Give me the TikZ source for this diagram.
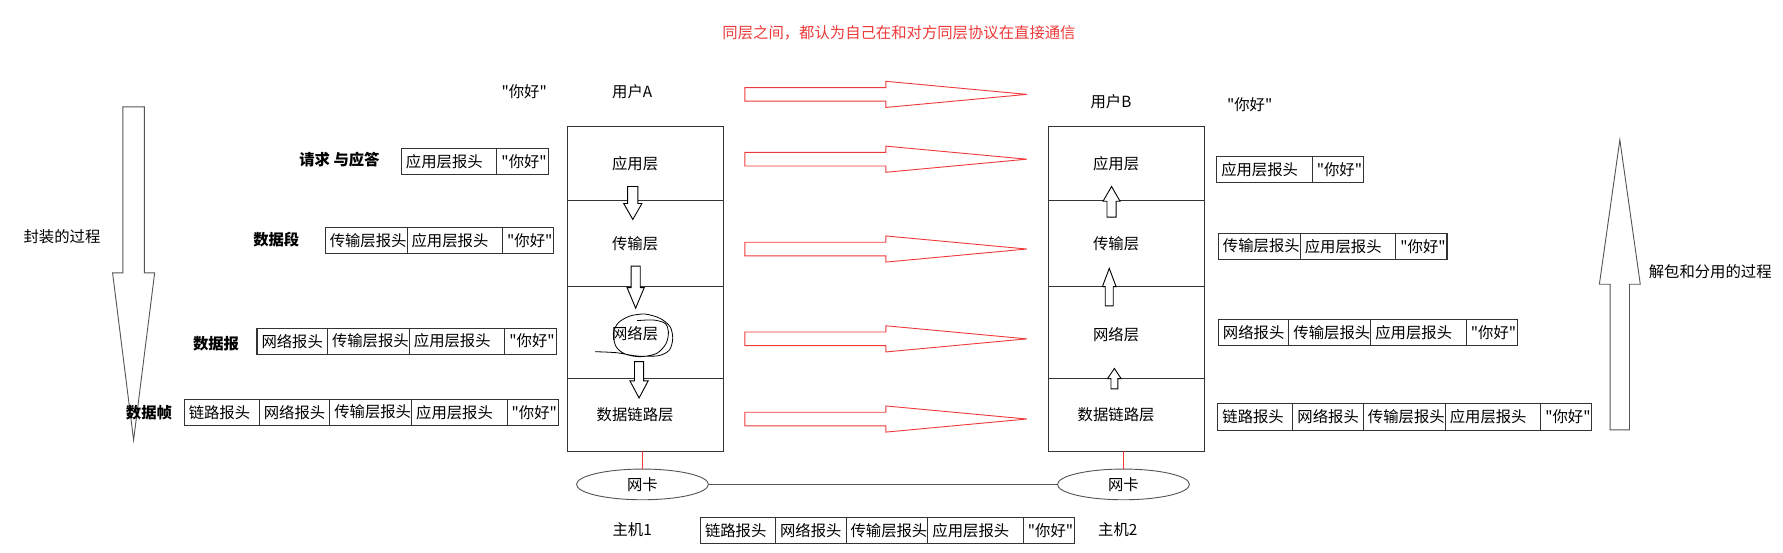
\documentclass[tikz,border=0pt]{standalone}
\usepackage{fontspec}
\newfontfamily\cnfont{Noto Sans CJK SC}
\usetikzlibrary{positioning,shapes.geometric}
\definecolor{PeerRed}{HTML}{EE3A3A}
\definecolor{BoxGray}{HTML}{333333}
\definecolor{ArrGray}{HTML}{555555}

\begin{document}
\begin{tikzpicture}[x=1pt, y=-1pt, node distance=0pt,
    every node/.style={font=\cnfont\fontsize{13.5}{16}\selectfont, inner sep=0pt, outer sep=0pt},
    osibox/.style={draw=BoxGray, line width=0.9pt, minimum width=137pt},
    hdr/.style={draw=BoxGray, line width=0.9pt, minimum height=23pt, inner xsep=4pt, align=left, anchor=west},
    lnkhdr/.style={hdr, text width=58pt},
    nethdr/.style={hdr, text width=54pt},
    trhdr/.style={hdr, text width=64pt},
    apphdr/.style={hdr, text width=76pt},
    msgbox/.style={hdr, text width=37pt},
    peer/.style={draw=PeerRed, line width=0.8pt},
    fat/.style={draw=ArrGray, line width=0.8pt, fill=white},
    nic/.style={draw=ArrGray, ellipse, line width=0.8pt, minimum width=116pt, minimum height=27pt},
    pdu/.style={font=\cnfont\fontsize{13.5}{16}\selectfont\bfseries}]
    \useasboundingbox (0,0) rectangle (1568,486);

    \node[text=PeerRed] (title) at (790.6,29.3) {同层之间，都认为自己在和对方同层协议在直接通信};

    % the two protocol stacks
    \node[osibox, minimum height=64.5pt] (appA) at (567.5,143.75) {};
    \node[osibox, minimum height=76pt, below=of appA] (trA) {};
    \node[osibox, minimum height=81pt, below=of trA] (netA) {};
    \node[osibox, minimum height=64pt, below=of netA] (lnkA) {};
    \node[osibox, minimum height=64.5pt] (appB) at (990.5,143.75) {};
    \node[osibox, minimum height=76pt, below=of appB] (trB) {};
    \node[osibox, minimum height=81pt, below=of trB] (netB) {};
    \node[osibox, minimum height=64pt, below=of netB] (lnkB) {};
    \node (appAl) at ([xshift=-9pt]appA.center) {应用层};
    \node (trAl) at ([xshift=-9pt]trA.center) {传输层};
    \node (netAl) at ([xshift=-9pt,yshift=-1pt]netA.center) {网络层};
    \node (lnkAl) at ([xshift=-9pt]lnkA.center) {数据链路层};
    \node (appBl) at ([xshift=-9pt]appB.center) {应用层};
    \node (trBl) at ([xshift=-9pt]trB.center) {传输层};
    \node (netBl) at ([xshift=-9pt,yshift=-2pt]netB.center) {网络层};
    \node (lnkBl) at ([xshift=-9pt]lnkB.center) {数据链路层};

    \node (userA) at (556,81) {用户A};
    \node (userB) at (977,89.5) {用户B};
    \node (helloA) at (461,81) {"你好"};
    \node (helloB) at (1099,92) {"你好"};

    % peer arrows
    \foreach \y in {83,140,219,298,368.5}
      \draw[peer] (655,\y-6) -- (779,\y-6) -- (779,\y-11.5) -- (903,\y) -- (779,\y+11.5) -- (779,\y+6) -- (655,\y+6) -- cycle;

    % big process arrows and small layer arrows
    \foreach \cx/\ys/\yb/\yt/\sw/\hw in {117.5/94/240/387/9.5/18.5, 1424.5/378/250/123/8.5/18}
      \draw[fat] (\cx-\sw,\ys) -- (\cx+\sw,\ys) -- (\cx+\sw,\yb) -- (\cx+\hw,\yb) -- (\cx,\yt) -- (\cx-\hw,\yb) -- (\cx-\sw,\yb) -- cycle;
    \foreach \cx/\ys/\yb/\yt/\sw/\hw in {556.5/164/179/193/4.5/8, 559/234/253/271/4/7.5, 562/318/335/350/4/8,
        977.5/191/177/164/4/7.5, 975.5/269/252/236/3.5/6, 980/342/333/324/3/6}
      \draw[fat, draw=black] (\cx-\sw,\ys) -- (\cx+\sw,\ys) -- (\cx+\sw,\yb) -- (\cx+\hw,\yb) -- (\cx,\yt) -- (\cx-\hw,\yb) -- (\cx-\sw,\yb) -- cycle;
    \node (encap) at (54.5,208) {封装的过程};
    \node (decap) at (1504,239) {解包和分用的过程};

    % scribble round the network layer
    \draw[black, line width=0.7pt] plot[smooth] coordinates {(523.3,309.3) (542.4,310.2) (560,313.1) (579,312.8) (588.7,307.8) (591.6,297.6) (589.3,287.3) (580.5,280) (567.3,276.2) (554.1,277.9) (543.8,283.8) (539.4,293.2) (541.8,304.9) (549.7,311.3) (562.9,313.7) (577.5,310.8) (585.8,302) (587.8,291.7) (584.9,284.4) (574.6,281.4) (560,282)};

    % network cards
    \node[nic] (nicA) at (565,426) {网卡};
    \node[nic] (nicB) at (988,426) {网卡};
    \draw[PeerRed, line width=0.8pt] (nicA.north) -- (nicA.north |- lnkA.south);
    \draw[PeerRed, line width=0.8pt] (nicB.north) -- (nicB.north |- lnkB.south);
    \draw[ArrGray, line width=0.8pt] (nicA) -- (nicB);
    \node (host1) at (556,466) {主机1};
    \node (host2) at (983,466) {主机2};

    % encapsulation, sender side
    \node[pdu] (pdu1) at (298.5,140) {请求 与应答};
    \node[pdu] (pdu2) at (243,211) {数据段};
    \node[pdu] (pdu3) at (190,302) {数据报};
    \node[pdu] (pdu4) at (131,363) {数据帧};
    \node[apphdr] (enc1app) at (353,142) {应用层报头};
    \node[msgbox, right=of enc1app] (enc1msg) {"你好"};
    \node[trhdr] (enc2tr) at (286,211.5) {传输层报头};
    \node[apphdr, right=of enc2tr] (enc2app) {应用层报头};
    \node[msgbox, right=of enc2app] (enc2msg) {"你好"};
    \node[nethdr] (enc3net) at (226,300) {网络报头};
    \node[trhdr, right=of enc3net] (enc3tr) {传输层报头};
    \node[apphdr, right=of enc3tr] (enc3app) {应用层报头};
    \node[msgbox, right=of enc3app] (enc3msg) {"你好"};
    \node[lnkhdr] (enc4lnk) at (162,362.5) {链路报头};
    \node[nethdr, right=of enc4lnk] (enc4net) {网络报头};
    \node[trhdr, right=of enc4net] (enc4tr) {传输层报头};
    \node[apphdr, right=of enc4tr] (enc4app) {应用层报头};
    \node[msgbox, right=of enc4app] (enc4msg) {"你好"};

    % on the wire
    \node[lnkhdr] (wirelnk) at (616,466.75) {链路报头};
    \node[nethdr, right=of wirelnk] (wirenet) {网络报头};
    \node[trhdr, right=of wirenet] (wiretr) {传输层报头};
    \node[apphdr, right=of wiretr] (wireapp) {应用层报头};
    \node[msgbox, right=of wireapp] (wiremsg) {"你好"};

    % decapsulation, receiver side
    \node[apphdr] (dec1app) at (1070,149) {应用层报头};
    \node[msgbox, right=of dec1app] (dec1msg) {"你好"};
    \node[trhdr] (dec2tr) at (1071.5,216.5) {传输层报头};
    \node[apphdr, right=of dec2tr] (dec2app) {应用层报头};
    \node[msgbox, right=of dec2app] (dec2msg) {"你好"};
    \node[nethdr] (dec3net) at (1071.5,292.75) {网络报头};
    \node[trhdr, right=of dec3net] (dec3tr) {传输层报头};
    \node[apphdr, right=of dec3tr] (dec3app) {应用层报头};
    \node[msgbox, right=of dec3app] (dec3msg) {"你好"};
    \node[lnkhdr] (dec4lnk) at (1071,366.75) {链路报头};
    \node[nethdr, right=of dec4lnk] (dec4net) {网络报头};
    \node[trhdr, right=of dec4net] (dec4tr) {传输层报头};
    \node[apphdr, right=of dec4tr] (dec4app) {应用层报头};
    \node[msgbox, right=of dec4app] (dec4msg) {"你好"};
  \end{tikzpicture}
\end{document}
